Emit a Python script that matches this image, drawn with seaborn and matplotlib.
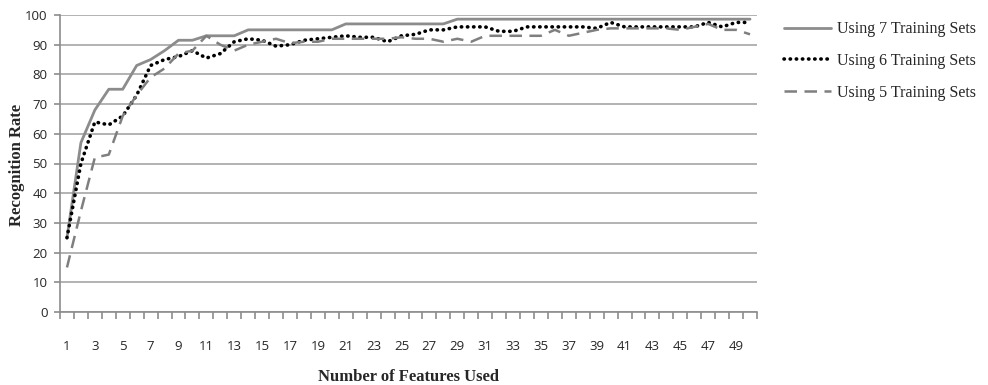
import numpy as np
import pandas as pd
import matplotlib
matplotlib.use("Agg")
import matplotlib.pyplot as plt
import seaborn as sns

features = list(range(1, 51))

using7 = [25, 57, 68, 75, 75, 83, 85, 88, 91.5, 91.5,
          93, 93, 93, 95, 95, 95, 95, 95, 95, 95,
          97, 97, 97, 97, 97, 97, 97, 97, 98.6, 98.6,
          98.6, 98.6, 98.6, 98.6, 98.6, 98.6, 98.6, 98.6, 98.6, 98.6,
          98.6, 98.6, 98.6, 98.6, 98.6, 98.6, 98.6, 98.6, 98.6, 98.6]

using6 = [25, 50, 64, 63, 66, 73, 83, 85, 86, 88,
          85.5, 87, 91, 92, 91.5, 89.5, 90, 91.5, 92, 92.5,
          93, 92.5, 92.5, 91, 93, 93.5, 95, 95, 96, 96,
          96, 94.5, 94.5, 96, 96, 96, 96, 96, 95.5, 97.5,
          96, 96, 96, 96, 96, 96, 97.5, 96, 97.5, 97.5]

using5 = [15, 34, 52, 53, 66, 73, 79, 82, 87, 88,
          93, 90, 88, 90, 91, 92, 90.5, 91, 91, 92,
          92, 92, 92, 92, 92.5, 92, 92, 91, 92, 91,
          93, 93, 93, 93, 93, 95, 93, 94, 95, 95.5,
          95.5, 95.5, 95.5, 95.5, 95, 96, 97, 95, 95, 93.5]

series_names = ["Using 7 Training Sets", "Using 6 Training Sets", "Using 5 Training Sets"]

df = pd.DataFrame({
    "Features": features * 3,
    "Rate": using7 + using6 + using5,
    "Series": [series_names[0]] * 50 + [series_names[1]] * 50 + [series_names[2]] * 50,
})

sns.set_style("white")
plt.rcParams['font.family'] = ['DejaVu Sans']

fig = plt.figure(figsize=(9.88, 3.85), dpi=100)
ax = fig.add_axes([60 / 988, 1 - 312 / 385, (757 - 60) / 988, (312 - 15) / 385])

styles = {
    series_names[0]: dict(color="#8c8c8c", linewidth=2.0, linestyle="-"),
    series_names[1]: dict(color="#000000", linewidth=2.6, linestyle=(0, (0.1, 1.6)), dash_capstyle="round"),
    series_names[2]: dict(color="#7f7f7f", linewidth=1.8, linestyle=(0, (5, 3))),
}

for name in series_names:
    sub = df[df["Series"] == name]
    sns.lineplot(data=sub, x="Features", y="Rate", ax=ax, label=name,
                 estimator=None, errorbar=None, **styles[name])

ax.set_xlim(0.5, 50.5)
ax.set_ylim(0, 100)
ax.set_yticks(np.arange(0, 101, 10))
ax.set_xticks(features[::2])
ax.set_xticks(np.arange(0.5, 51, 1), minor=True)

grid_color = "#a6a6a6"
ax.yaxis.grid(True, color=grid_color, linewidth=1.2)
ax.xaxis.grid(False)
ax.set_axisbelow(True)
for s in ["top", "right"]:
    ax.spines[s].set_visible(False)
for s in ["left", "bottom"]:
    ax.spines[s].set_color("#8c8c8c")
    ax.spines[s].set_linewidth(1.2)

ax.tick_params(axis="y", which="major", direction="out", length=4, width=1.2,
               color="#8c8c8c", pad=5, labelsize=9.5, left=True)
ax.tick_params(axis="x", which="major", length=0, pad=20, labelsize=9.5)
ax.tick_params(axis="x", which="minor", direction="out", length=5, width=1.2,
               color="#8c8c8c", bottom=True)
for lab in ax.get_xticklabels() + ax.get_yticklabels():
    lab.set_fontfamily("Open Sans")
    lab.set_color("#262626")

ax.set_xlabel("")
ax.set_ylabel("")
fig.text(408 / 988, 1 - 377 / 385, "Number of Features Used", ha="center", va="center",
         family="Liberation Serif", fontweight="bold", fontsize=12)
fig.text(17 / 988, 1 - 165 / 385, "Recognition Rate", ha="center", va="center", rotation=90,
         family="Liberation Serif", fontweight="bold", fontsize=12)

leg = ax.legend(loc="upper left", bbox_to_anchor=(778 / 988, 1 - 15 / 385),
                bbox_transform=fig.transFigure, frameon=False,
                prop=dict(family="Liberation Serif", size=11.5),
                handlelength=2.9, handletextpad=0.4, labelspacing=0.98, borderaxespad=0)

fig.savefig("out.png", dpi=100)
